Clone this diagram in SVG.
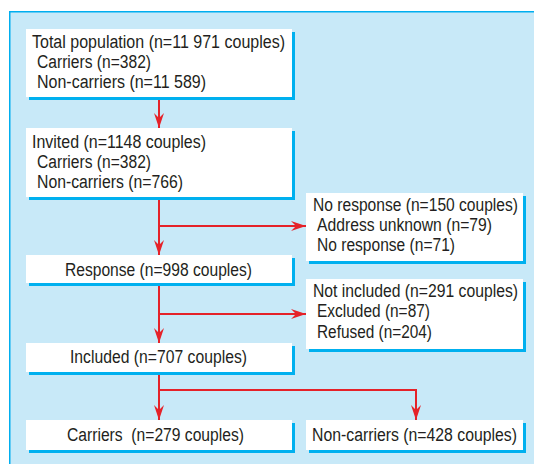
<svg xmlns="http://www.w3.org/2000/svg" width="534" height="464" viewBox="0 0 534 464">
<style>
.sh{fill:#00b0ef}
.bx{fill:#ffffff}
.t{font-family:"Liberation Sans Narrow","Liberation Sans",Arial,sans-serif;font-size:18px;fill:#231f20}
.c{fill:none;stroke:#e52229;stroke-width:2}
</style>
<defs>
<marker id="ah" markerWidth="16" markerHeight="12" viewBox="-16 -6 16 12" refX="0" refY="0" orient="auto" markerUnits="userSpaceOnUse">
<path d="M0,0 L-15,-5 L-10,0 L-15,5 Z" fill="#e52229"/>
</marker>
</defs>
<rect x="0" y="0" width="534" height="464" fill="#ffffff"/>
<rect x="9" y="11" width="530" height="460" fill="#c8e9f8"/>
<path d="M9.75,464 V11.75 H534" fill="none" stroke="#00aeef" stroke-width="1.5"/>

<g id="connectors">
<path class="c" d="M159,97 V128" marker-end="url(#ah)"/>
<path class="c" d="M159,197 V255" marker-end="url(#ah)"/>
<path class="c" d="M159,226 H306" marker-end="url(#ah)"/>
<path class="c" d="M159,283 V343" marker-end="url(#ah)"/>
<path class="c" d="M159,314 H306" marker-end="url(#ah)"/>
<path class="c" d="M159,372 V420" marker-end="url(#ah)"/>
<path class="c" d="M159,390 H416 V420" marker-end="url(#ah)"/>
</g>

<g id="total">
<rect class="sh" x="29" y="32" width="266" height="68"/>
<rect class="bx" x="26" y="29" width="266" height="68"/>
<text class="t" x="32" y="48" textLength="253" lengthAdjust="spacingAndGlyphs">Total population (n=11 971 couples)</text>
<text class="t" x="37" y="68" textLength="114" lengthAdjust="spacingAndGlyphs">Carriers (n=382)</text>
<text class="t" x="37" y="88" textLength="169" lengthAdjust="spacingAndGlyphs">Non-carriers (n=11 589)</text>
</g>

<g id="invited">
<rect class="sh" x="29" y="131" width="266" height="69"/>
<rect class="bx" x="26" y="128" width="266" height="69"/>
<text class="t" x="32" y="148" textLength="174" lengthAdjust="spacingAndGlyphs">Invited (n=1148 couples)</text>
<text class="t" x="37" y="168" textLength="114" lengthAdjust="spacingAndGlyphs">Carriers (n=382)</text>
<text class="t" x="37" y="188" textLength="146" lengthAdjust="spacingAndGlyphs">Non-carriers (n=766)</text>
</g>

<g id="noresponse">
<rect class="sh" x="309" y="196" width="217" height="68"/>
<rect class="bx" x="306" y="193" width="217" height="68"/>
<text class="t" x="313" y="211" textLength="205" lengthAdjust="spacingAndGlyphs">No response (n=150 couples)</text>
<text class="t" x="317" y="231" textLength="175" lengthAdjust="spacingAndGlyphs">Address unknown (n=79)</text>
<text class="t" x="317" y="251" textLength="138" lengthAdjust="spacingAndGlyphs">No response (n=71)</text>
</g>

<g id="response">
<rect class="sh" x="29" y="258" width="266" height="28"/>
<rect class="bx" x="26" y="255" width="266" height="28"/>
<text class="t" x="65" y="276" textLength="187" lengthAdjust="spacingAndGlyphs">Response (n=998 couples)</text>
</g>

<g id="notincluded">
<rect class="sh" x="309" y="282" width="217" height="70"/>
<rect class="bx" x="306" y="279" width="217" height="70"/>
<text class="t" x="313" y="297" textLength="205" lengthAdjust="spacingAndGlyphs">Not included (n=291 couples)</text>
<text class="t" x="317" y="317" textLength="113" lengthAdjust="spacingAndGlyphs">Excluded (n=87)</text>
<text class="t" x="317" y="338" textLength="115" lengthAdjust="spacingAndGlyphs">Refused (n=204)</text>
</g>

<g id="included">
<rect class="sh" x="29" y="346" width="266" height="29"/>
<rect class="bx" x="26" y="343" width="266" height="29"/>
<text class="t" x="70" y="363" textLength="177" lengthAdjust="spacingAndGlyphs">Included (n=707 couples)</text>
</g>

<g id="carriers">
<rect class="sh" x="29" y="423" width="266" height="30"/>
<rect class="bx" x="26" y="420" width="266" height="30"/>
<text class="t" x="67" y="441" textLength="177" lengthAdjust="spacingAndGlyphs" xml:space="preserve">Carriers  (n=279 couples)</text>
</g>

<g id="noncarriers">
<rect class="sh" x="309" y="423" width="217" height="30"/>
<rect class="bx" x="306" y="420" width="217" height="30"/>
<text class="t" x="312" y="441" textLength="205" lengthAdjust="spacingAndGlyphs">Non-carriers (n=428 couples)</text>
</g>
</svg>
